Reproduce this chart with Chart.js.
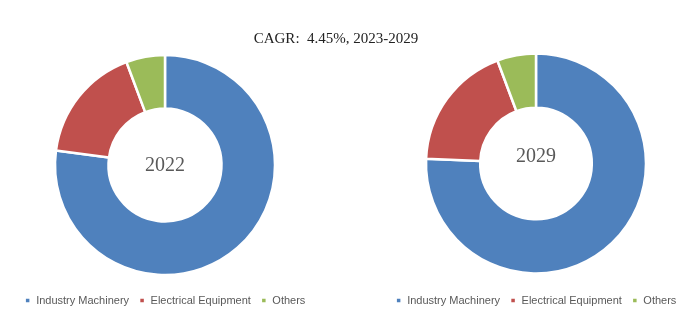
<!DOCTYPE html>
<html lang="en">
<head>
<meta charset="utf-8">
<title>CAGR: 4.45%, 2023-2029</title>
<script src="https://cdn.jsdelivr.net/npm/chart.js"></script>
<style>
  body{margin:0;background:#fff}
  #wrap{position:relative;width:697px;height:322px;overflow:hidden}
  #title{position:absolute;left:0;width:672px;top:30px;text-align:center;
    font:15px "Liberation Serif",serif;color:#222}
  #c1{position:absolute;left:0;top:0}
  #c2{position:absolute;left:371px;top:0}
</style>
</head>
<body>
<div id="wrap">
  <canvas id="c1" width="330" height="322"></canvas>
  <canvas id="c2" width="330" height="322"></canvas>
  <div id="title">CAGR:&nbsp; 4.45%, 2023-2029</div>
</div>
<script>
const categories = ['Industry Machinery','Electrical Equipment','Others'];
const share2022  = [77.1, 17.2, 5.7];
const share2029  = [75.7, 18.6, 5.7];
const colors     = ['#4F81BD','#C0504D','#9BBB59'];

// writes the year in the hole of the ring
const centerText = {
  id:'centerText',
  afterDatasetsDraw(chart, args, opts){
    const {ctx, chartArea:a} = chart;
    ctx.save();
    ctx.font = '20px "Liberation Serif", serif';
    ctx.fillStyle = '#595959';
    ctx.textAlign = 'center';
    ctx.textBaseline = 'middle';
    ctx.fillText(opts.text, (a.left+a.right)/2, (a.top+a.bottom)/2 + opts.dy);
    ctx.restore();
  }
};

function ring(id, values, year, top, dy){
  new Chart(document.getElementById(id),{
    type:'doughnut',
    data:{
      labels:categories,
      datasets:[{ data:values, backgroundColor:colors, borderColor:'#fff', borderWidth:2.5,
                  radius:110, cutout:61 }]
    },
    options:{
      responsive:false,
      animation:false,
      layout:{ padding:{ top:top, bottom:6 } },
      plugins:{
        legend:{
          position:'bottom',
          labels:{ boxWidth:6, boxHeight:6, padding:10, color:'#595959',
                   font:{ family:'"Liberation Sans", sans-serif', size:11 } }
        },
        tooltip:{ enabled:false },
        centerText:{ text:year, dy:dy }
      }
    },
    plugins:[centerText]
  });
}

ring('c1', share2022, '2022', 45, 1);
ring('c2', share2029, '2029', 42, -7);
</script>
</body>
</html>
